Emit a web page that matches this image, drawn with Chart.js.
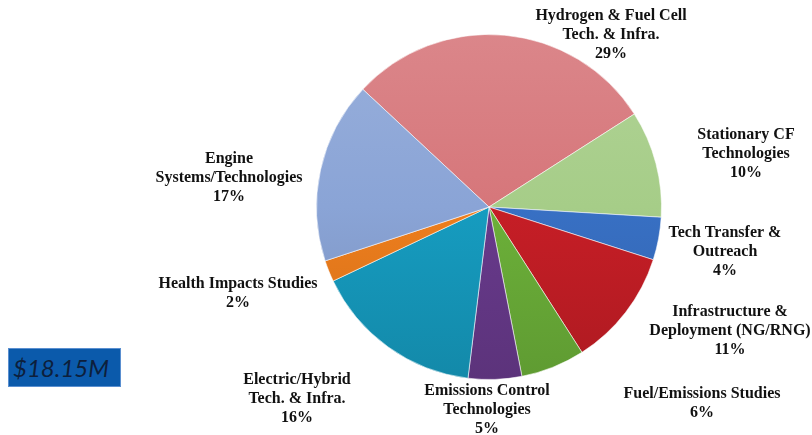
<!DOCTYPE html>
<html>
<head>
<meta charset="utf-8">
<script src="https://cdn.jsdelivr.net/npm/chart.js@4.4.1/dist/chart.umd.min.js"></script>
<style>
  html, body { margin: 0; padding: 0; background: #fff; }
  #wrap { position: relative; width: 812px; height: 435px; }
  #total {
    position: absolute; left: 8px; top: 348px; width: 107px; height: 37px;
    background: #0b5aab; border: 1px solid #5a8fd0;
    font: italic 24px Lato, "Open Sans", sans-serif; color: #0d1f3c;
    line-height: 37px; padding-left: 4px; box-sizing: content-box;
  }
</style>
</head>
<body>
<div id="wrap">
  <canvas id="pie" width="812" height="435"></canvas>
  <div id="total">$18.15M</div>
</div>
<script>
const categories = [
  'Hydrogen & Fuel Cell\nTech. & Infra.',
  'Stationary CF\nTechnologies',
  'Tech Transfer &\nOutreach',
  'Infrastructure &\nDeployment (NG/RNG)',
  'Fuel/Emissions Studies',
  'Emissions Control\nTechnologies',
  'Electric/Hybrid\nTech. & Infra.',
  'Health Impacts Studies',
  'Engine\nSystems/Technologies'
];
const shares = [29, 10, 4, 11, 6, 5, 16, 2, 17];
const colors = ['#d6767a', '#a6cd88', '#3870c4', '#c61e26', '#6cb039', '#683a8c', '#169cc0', '#ee7e1d', '#8aa4d6'];

// label anchor (center x, first-line y)
const labelX = [611, 746, 725, 730, 702, 487, 297, 238, 229];
const labelY = [16, 135, 233, 312, 394, 391, 380, 284, 159];

function shade(hex, f) {
  const n = parseInt(hex.slice(1), 16);
  let r = (n >> 16) & 255, g = (n >> 8) & 255, b = n & 255;
  const m = v => Math.max(0, Math.min(255, Math.round(f > 0 ? v + (255 - v) * f : v * (1 + f))));
  return `rgb(${m(r)},${m(g)},${m(b)})`;
}

const labelPlugin = {
  id: 'outerLabels',
  afterDraw(chart) {
    const c = chart.ctx;
    c.save();
    c.font = 'bold 16px "Liberation Serif", "Times New Roman", serif';
    c.fillStyle = '#111';
    c.textAlign = 'center';
    c.textBaseline = 'middle';
    categories.forEach((cat, i) => {
      const lines = cat.split('\n').concat([shares[i] + '%']);
      lines.forEach((ln, k) => c.fillText(ln, labelX[i], labelY[i] + k * 19));
    });
    c.restore();
  }
};

new Chart(document.getElementById('pie'), {
  type: 'pie',
  data: {
    labels: categories,
    datasets: [{
      data: shares,
      backgroundColor: ctx => {
        const area = ctx.chart.chartArea;
        if (!area) return colors[ctx.dataIndex];
        const g = ctx.chart.ctx.createLinearGradient(0, area.top, 0, area.bottom);
        const base = colors[ctx.dataIndex];
        g.addColorStop(0, shade(base, 0.12));
        g.addColorStop(0.5, base);
        g.addColorStop(1, shade(base, -0.12));
        return g;
      },
      borderColor: 'rgba(255,255,255,0.55)',
      borderWidth: 1
    }]
  },
  options: {
    responsive: false,
    animation: false,
    rotation: -47,
    layout: { padding: { left: 316, right: 150, top: 34, bottom: 55 } },
    plugins: {
      legend: { display: false },
      tooltip: { enabled: false }
    }
  },
  plugins: [labelPlugin]
});
</script>
</body>
</html>
